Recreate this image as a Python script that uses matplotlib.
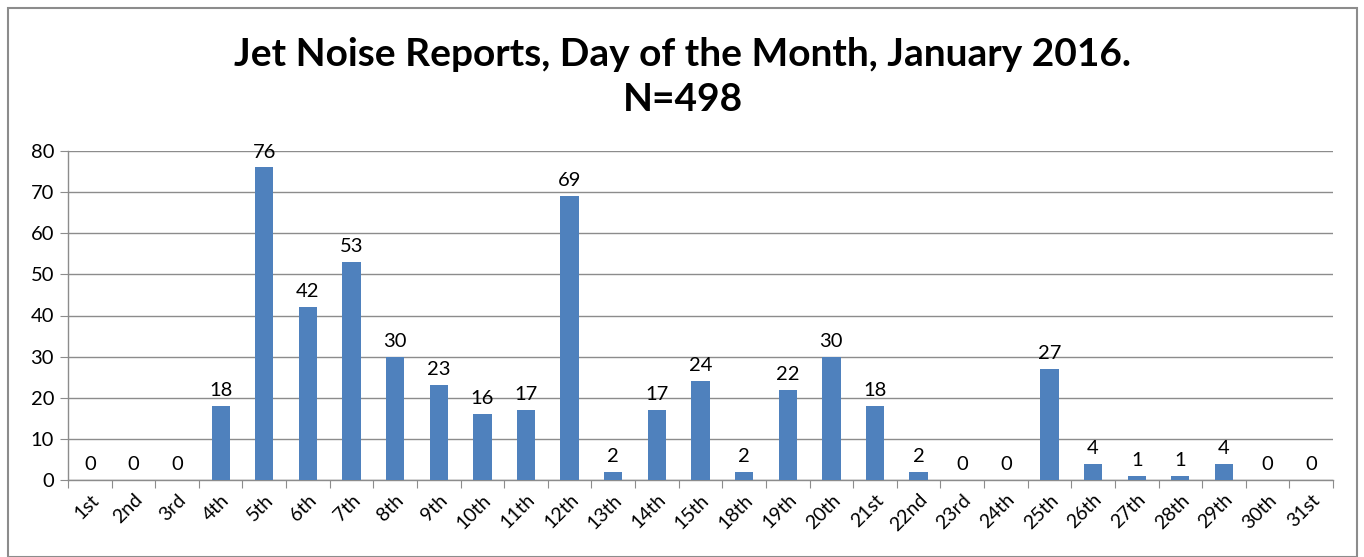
import matplotlib
matplotlib.use("Agg")
import matplotlib.pyplot as plt
import numpy as np
from matplotlib.patches import Rectangle

days = ["1st", "2nd", "3rd", "4th", "5th", "6th", "7th", "8th", "9th", "10th",
        "11th", "12th", "13th", "14th", "15th", "18th", "19th", "20th", "21st",
        "22nd", "23rd", "24th", "25th", "26th", "27th", "28th", "29th", "30th", "31st"]
reports = [0, 0, 0, 18, 76, 42, 53, 30, 23, 16, 17, 69, 2, 17, 24, 2, 22, 30, 18,
           2, 0, 0, 27, 4, 1, 1, 4, 0, 0]
title_text = "Jet Noise Reports, Day of the Month, January 2016.\nN=498"

plt.rcParams['font.family'] = ['Lato', 'DejaVu Sans']

W, H = 1364, 557
fig = plt.figure(figsize=(W / 100, H / 100), dpi=100)
ax = fig.add_axes([68 / W, 1 - 480 / H, (1333 - 68) / W, (480 - 151) / H])

x = np.arange(len(days))
bar_color = "#4F81BD"
bars = ax.bar(x, reports, width=0.42, color=bar_color, zorder=3)
for xi, v in zip(x, reports):
    ax.annotate(str(v), (xi, v), xytext=(0, 5), textcoords="offset points",
                ha="center", va="bottom", fontsize=14.5, color="black")

ax.set_xlim(-0.5, len(days) - 0.5)
ax.set_ylim(0, 80)
ax.set_yticks(np.arange(0, 81, 10))
ax.yaxis.grid(True, color="#8C8C8C", linewidth=1.0, zorder=0)
ax.set_axisbelow(True)
for s in ["top", "right"]:
    ax.spines[s].set_visible(False)
for s in ["left", "bottom"]:
    ax.spines[s].set_color("#8C8C8C")
    ax.spines[s].set_linewidth(1.0)

# category-boundary ticks (Excel style)
ax.set_xticks(np.arange(-0.5, len(days) + 0.5, 1.0))
ax.set_xticklabels([])
ax.set_xticks(x, minor=True)
ax.set_xticklabels(days, minor=True, rotation=45, ha="right",
                   rotation_mode="anchor", fontsize=14)
ax.tick_params(axis="x", which="major", length=6, color="#8C8C8C", direction="out")
ax.tick_params(axis="x", which="minor", length=0, pad=8)
ax.tick_params(axis="y", length=6, color="#8C8C8C", labelsize=14.5, pad=4)

fig.text(683 / W, 1 - 77 / H, title_text, ha="center", va="center",
         fontsize=28, fontweight="bold", linespacing=1.32)

fig.patches.append(Rectangle((8 / W, 0), (1357 - 8) / W, 1 - 8 / H,
                             transform=fig.transFigure, fill=False,
                             edgecolor="#8C8C8C", linewidth=1.5))

fig.savefig("out.png", dpi=100)
